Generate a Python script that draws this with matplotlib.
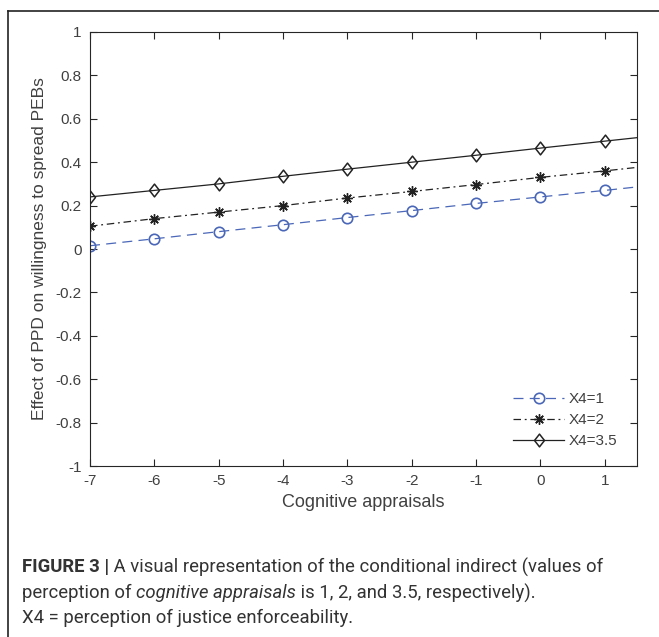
import matplotlib
matplotlib.use('Agg')
import matplotlib.pyplot as plt
from matplotlib.lines import Line2D
from matplotlib.path import Path
from matplotlib import font_manager

# ---- data ----
x = [-7, -6, -5, -4, -3, -2, -1, 0, 1, 1.5]
x4_1 = [0.015, 0.047, 0.080, 0.112, 0.145, 0.177, 0.210, 0.240, 0.270, 0.286]
x4_2 = [0.105, 0.140, 0.170, 0.200, 0.235, 0.265, 0.297, 0.330, 0.360, 0.376]
x4_35 = [0.240, 0.270, 0.300, 0.335, 0.368, 0.400, 0.432, 0.465, 0.497, 0.513]
labels = ['X4=1', 'X4=2', 'X4=3.5']
xticks = [-7, -6, -5, -4, -3, -2, -1, 0, 1]
yticks = [-1, -0.8, -0.6, -0.4, -0.2, 0, 0.2, 0.4, 0.6, 0.8, 1]

plt.rcParams['font.family'] = ['Liberation Sans', 'DejaVu Sans']
TXT = '#404040'
BLUE = '#4a67b8'
DARK = '#222222'

# MATLAB-like diamond (taller than wide)
diamond = Path([(0, 1), (0.78, 0), (0, -1), (-0.78, 0), (0, 1)],
               [Path.MOVETO, Path.LINETO, Path.LINETO, Path.LINETO, Path.CLOSEPOLY])

styles = [
    dict(color=BLUE, lw=0.9, ls=(0, (8, 5)), marker='o', ms=7.5,
         mfc='none', mec=BLUE, mew=1.2),
    dict(color=DARK, lw=0.9, ls=(0, (6, 3, 1.5, 3)), marker=(8, 2, 0),
         ms=7.5, mec=DARK, mew=1.0),
    dict(color=DARK, lw=0.9, ls='-', marker=diamond, ms=9.2,
         mfc='none', mec=DARK, mew=1.1),
]

fig = plt.figure(figsize=(6.59, 6.37), dpi=100)
ax = fig.add_axes([0.1366, 0.2684, 0.830, 0.6814])

mk = list(range(9))
for ys, st in zip([x4_1, x4_2, x4_35], styles):
    ax.plot(x, ys, markevery=mk, **st)

ax.set_xlim(-7, 1.5)
ax.set_ylim(-1, 1)
ax.set_xticks(xticks)
ax.set_yticks(yticks)
ax.set_xticklabels([str(v) for v in xticks])
ax.set_yticklabels(['%g' % v for v in yticks])
ax.tick_params(direction='in', top=True, right=True, length=5, width=0.8,
               colors='#262626', labelcolor=TXT, labelsize=11, pad=6)
for s in ax.spines.values():
    s.set_color('#262626')
    s.set_linewidth(0.8)

ax.set_xlabel('Cognitive appraisals', fontsize=13, color=TXT, labelpad=4)
ax.set_ylabel('Effect of PPD on willingness to spread PEBs', fontsize=12.5,
              color=TXT, labelpad=6)

handles = [Line2D([], [], **st) for st in styles]
leg = ax.legend(handles, labels, loc='lower right', frameon=False, fontsize=11,
                handlelength=3.33, handletextpad=0.28, labelspacing=0.45,
                borderaxespad=0.9, bbox_to_anchor=(1.0, -0.004))
for t in leg.get_texts():
    t.set_color(TXT)

# outer frame (left and top edges only)
fig.add_artist(Line2D([0.0121, 0.0121], [0.0, 0.983], transform=fig.transFigure,
                      color=DARK, lw=1.2))
fig.add_artist(Line2D([0.0121, 1.0], [0.983, 0.983], transform=fig.transFigure,
                      color=DARK, lw=1.2))

# ---- caption, laid out piece by piece ----
names = {f.name for f in font_manager.fontManager.ttflist}
cap_family = ['Liberation Sans Narrow'] if 'Liberation Sans Narrow' in names else ['Roboto']
cap_family = cap_family + ['DejaVu Sans']
renderer = fig.canvas.get_renderer()

lines = [
    [('FIGURE 3 |', 'bold', 'normal'),
     (' A visual representation of the conditional indirect (values of', 'normal', 'normal')],
    [('perception of ', 'normal', 'normal'), ('cognitive appraisals', 'normal', 'italic'),
     (' is 1, 2, and 3.5, respectively).', 'normal', 'normal')],
    [('X4 = perception of justice enforceability.', 'normal', 'normal')],
]
line_y = [567, 593, 618]
x0_px, x1_px = 22, 603


def draw_line(parts, ypx, size):
    xpx = x0_px
    arts = []
    for txt, w, st in parts:
        t = fig.text(xpx / 659, 1 - ypx / 637, txt, fontsize=size, fontweight=w,
                     style=st, family=cap_family, color='#333333', va='center')
        bb = t.get_window_extent(renderer)
        xpx += bb.width
        arts.append(t)
    return arts, xpx


# fit the first caption line to the measured width
size = 12.5
arts, end = draw_line(lines[0], line_y[0], size)
for a in arts:
    a.remove()
size = size * (x1_px - x0_px) / (end - x0_px)
for parts, ypx in zip(lines, line_y):
    draw_line(parts, ypx, size)

fig.savefig('out.png', dpi=100)
